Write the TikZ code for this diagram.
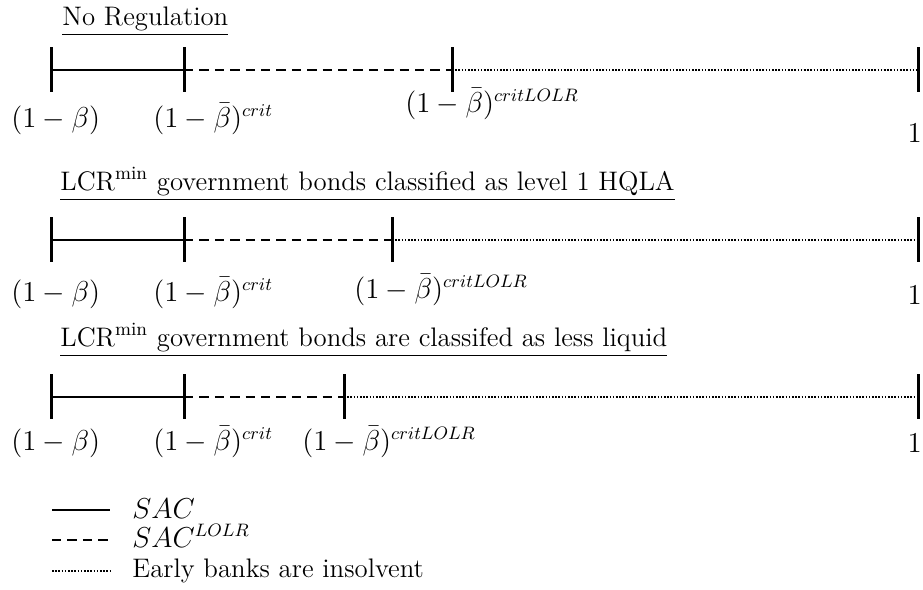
\documentclass[tikz,border=0pt]{standalone}
\usepackage{amsmath}
\usepackage{amssymb}
\usepackage{tikz}
\usetikzlibrary{positioning}

\begin{document}
\begin{tikzpicture}[x=0.5pt,y=-0.5pt,
		tick/.style={line width=1.5pt},
		sac/.style={line width=1.1pt},
		saclolr/.style={line width=1.1pt,dash pattern=on 4.7pt off 3pt},
		insolv/.style={line width=1pt,dash pattern=on 0.8pt off 0.8pt},
		lbl/.style={inner sep=0pt,anchor=base west,font=\fontsize{13.4}{16}\selectfont},
		rlbl/.style={lbl,anchor=base east}]
	\useasboundingbox (0,0) rectangle (923,590);
				\node[lbl] (t1) at (62,25) {\underline{No Regulation}};
				\node[lbl] (t2) at (60,190) {\underline{LCR\textsuperscript{min} government bonds classified as level 1 HQLA}};
				\node[lbl] (t3) at (60,346) {\underline{LCR\textsuperscript{min} government bonds are classifed as less liquid}};
				\foreach\r/\y/\c in {1/70/452, 2/240/392, 3/397/344}
				{
					\coordinate (a\r) at (51,\y);
					\coordinate (b\r) at (184,\y);
					\coordinate (c\r) at (\c,\y);
					\coordinate (d\r) at (918,\y);
					\draw[sac] (a\r) -- (b\r);
					\draw[saclolr] (b\r) -- (c\r);
					\draw[insolv] (c\r) -- (d\r);
					\foreach\p in {a,b,c,d}
					{\draw[tick] (\p\r) ++(0,-23) -- ++(0,45);}
				}
				\foreach\r/\y/\x/\z in {1/127/405/112, 2/301/354/298, 3/450/302/450}
				{
					\node[lbl] (beta\r) at (11,\y) {$(1-\beta)$};
					\node[lbl] (crit\r) at (153,\y) {$(1-\bar{\beta})^{crit}$};
					\node[lbl] (lolr\r) at (\x,\z) {$(1-\bar{\beta})^{critLOLR}$};
				}
				\node[rlbl] (one1) at (922,142) {$1$};
				\node[rlbl] (one2) at (922,304) {$1$};
				\node[rlbl] (one3) at (922,452) {$1$};
				% legend
				\coordinate (ls1) at (52,510);
				\coordinate (ls2) at (110,510);
				\coordinate (ld1) at (52,540);
				\coordinate (ld2) at (110,540);
				\coordinate (lt1) at (52,571);
				\coordinate (lt2) at (110,571);
				\draw[sac] (ls1) -- (ls2);
				\draw[saclolr] (ld1) -- (ld2);
				\draw[insolv] (lt1) -- (lt2);
				\node[lbl] (legsac) at (132,518) {$SAC$};
				\node[lbl] (leglolr) at (132,547) {$SAC^{LOLR}$};
				\node[lbl] (legins) at (132,577) {Early banks are insolvent};
	\end{tikzpicture}
\end{document}
